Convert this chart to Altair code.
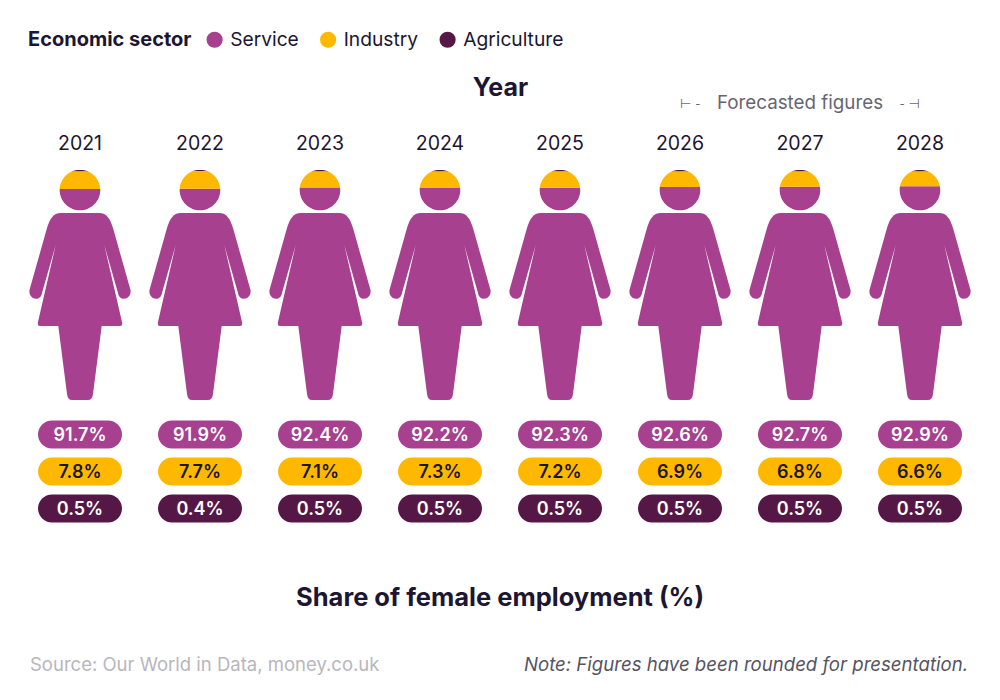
import altair as alt
import pandas as pd

# ---------------- data ----------------
years = ["2021", "2022", "2023", "2024", "2025", "2026", "2027", "2028"]
sectors = ["Service", "Industry", "Agriculture"]
service = [91.7, 91.9, 92.4, 92.2, 92.3, 92.6, 92.7, 92.9]
industry = [7.8, 7.7, 7.1, 7.3, 7.2, 6.9, 6.8, 6.6]
agriculture = [0.5, 0.4, 0.5, 0.5, 0.5, 0.5, 0.5, 0.5]
sector_colors = ["#A6408F", "#FFB800", "#551846"]

forecast_years = ["2026", "2027", "2028"]
title_x = "Year"
title_bottom = "Share of female employment (%)"
source_text = "Source: Our World in Data, money.co.uk"
note_text = "Note: Figures have been rounded for presentation."
forecast_text = "Forecasted figures"

DARK = "#1c1633"
FONT = "Inter"

rows = []
for i, yr in enumerate(years):
    for k, (s, vals) in enumerate(zip(sectors, [service, industry, agriculture])):
        rows.append({"year": yr, "sector": s, "share": vals[i], "order": k,
                     "label": f"{vals[i]:.1f}%"})
df = pd.DataFrame(rows)
years_df = pd.DataFrame({"year": years})

# ---------------- shapes (symbol paths, 50 px per unit at size 10000) ----------------
U = 50.0


def path(cmds):
    out = []
    for tok in cmds.split():
        try:
            out.append(f"{float(tok) / U:.4f}")
        except ValueError:
            out.append(tok)
    return " ".join(out)


outer = "M -57 -121 L 57 -121 L 57 121 L -57 121 Z"
head = ("M 0 -115.3 C -11.2 -115.3 -20.3 -106.2 -20.3 -95 C -20.3 -83.8 -11.2 -74.7 0 -74.7 "
        "C 11.2 -74.7 20.3 -83.8 20.3 -95 C 20.3 -106.2 11.2 -115.3 0 -115.3 Z")
body = ("M 0 -72 L -19 -72 C -27 -72 -30 -66 -33 -57 L -50.5 5 C -52 15 -39 17 -38 8 "
        "L -24.3 -40 L -42 37 C -42.5 40 -42 41 -40 41 L -21.7 41 L -13 109 "
        "C -12.5 113 -11 115 -8 115 L 8 115 C 11 115 12.5 113 13 109 L 21.7 41 L 40 41 "
        "C 42 41 42.5 40 42 37 L 24.3 -40 L 38 8 C 39 17 52 15 50.5 5 L 33 -57 "
        "C 30 -66 27 -72 19 -72 Z")
MASK = path(outer + " " + head + " " + body)
PILL = path("M -28 -14 L 28 -14 C 35.7 -14 42 -7.7 42 0 C 42 7.7 35.7 14 28 14 "
            "L -28 14 C -35.7 14 -42 7.7 -42 0 C -42 -7.7 -35.7 -14 -28 -14 Z")

# ---------------- scales ----------------
x_enc = alt.X(
    "year:O",
    scale=alt.Scale(type="band", domain=years, range=[12, 972], paddingInner=0, paddingOuter=0),
    axis=alt.Axis(orient="top", title=title_x, titleFont=FONT, titleFontSize=25,
                  titleFontWeight="bold", titleColor=DARK, titlePadding=33,
                  labelFont=FONT, labelFontSize=19.5, labelColor=DARK, labelAngle=0,
                  labelPadding=7, domain=False, ticks=False, tickSize=0, grid=False),
)
fig_scale = alt.Scale(domain=[0, 100], range=[240, 10], nice=False, zero=True)
pill_scale = alt.Scale(type="point", domain=sectors, range=[274.5, 348.5], padding=0)
color_scale = alt.Scale(domain=sectors, range=sector_colors)
legend = alt.Legend(
    orient="none", legendX=20, legendY=-130, direction="horizontal", titleOrient="left",
    title="Economic sector", titleFont=FONT, titleFontSize=20, titleFontWeight="bold",
    titleColor=DARK, titlePadding=13, labelFont=FONT, labelFontSize=19.2, labelColor=DARK,
    symbolType="circle", symbolSize=260, symbolStrokeWidth=0, symbolOpacity=1,
    columnPadding=19.5, labelOffset=6, padding=0, offset=0,
)

bars = alt.Chart(df).mark_bar(width=106).encode(
    x=x_enc,
    y=alt.Y("share:Q", stack="zero", scale=fig_scale, axis=None),
    color=alt.Color("sector:N", scale=color_scale, legend=legend),
    order=alt.Order("order:Q", sort="ascending"),
)

mask = alt.Chart(years_df).mark_point(
    shape=MASK, size=10000, filled=True, color="white", opacity=1, strokeWidth=0
).encode(
    x=x_enc,
    y=alt.YDatum(50, scale=fig_scale, axis=None),
)

pills = alt.Chart(df).mark_point(
    shape=PILL, size=10000, filled=True, opacity=1, strokeWidth=0
).encode(
    x=x_enc,
    y=alt.Y("sector:N", scale=pill_scale, axis=None),
    color=alt.Color("sector:N", scale=color_scale, legend=legend),
)

pill_text = alt.Chart(df).mark_text(
    font=FONT, fontSize=18, fontWeight=600, baseline="middle", align="center", dy=1
).encode(
    x=x_enc,
    y=alt.Y("sector:N", scale=pill_scale, axis=None),
    text="label:N",
    color=alt.condition(alt.datum.sector == "Industry", alt.value(DARK), alt.value("white")),
)

ann_df = pd.DataFrame({"t": [forecast_text]})
forecast_mid = alt.Chart(ann_df).mark_text(
    font=FONT, fontSize=18.8, color="#676573", align="center", baseline="middle"
).encode(x=alt.XDatum(forecast_years[1], type="ordinal"), y=alt.value(-57), text="t:N")
forecast_l = alt.Chart(pd.DataFrame({"t": ["⊢ -"]})).mark_text(
    font="DejaVu Sans", fontSize=13, color="#676573", align="left", baseline="middle"
).encode(x=alt.XDatum(forecast_years[0], type="ordinal"), y=alt.value(-56), text="t:N")
forecast_r = alt.Chart(pd.DataFrame({"t": ["- ⊣"]})).mark_text(
    font="DejaVu Sans", fontSize=13, color="#676573", align="right", baseline="middle"
).encode(x=alt.XDatum(forecast_years[2], type="ordinal"), y=alt.value(-56), text="t:N")

bottom_title = alt.Chart(pd.DataFrame({"t": [title_bottom]})).mark_text(
    font=FONT, fontSize=25.5, fontWeight="bold", color=DARK, align="center", baseline="middle"
).encode(x=alt.value(492), y=alt.value(438), text="t:N")
source = alt.Chart(pd.DataFrame({"t": [source_text]})).mark_text(
    font=FONT, fontSize=18.5, color="#b7b6bd", align="left", baseline="middle"
).encode(x=alt.value(22), y=alt.value(505), text="t:N")
note = alt.Chart(pd.DataFrame({"t": [note_text]})).mark_text(
    font=FONT, fontSize=18.6, fontStyle="italic", color="#56545f", align="right",
    baseline="middle"
).encode(x=alt.value(960), y=alt.value(505), text="t:N")

chart = alt.layer(
    bars, mask, pills, pill_text, forecast_mid, forecast_l, forecast_r,
    bottom_title, source, note,
).resolve_scale(y="independent").properties(
    width=984, height=532,
    autosize=alt.AutoSizeParams(type="none"),
    padding={"top": 152, "left": 0, "right": 0, "bottom": 0},
    background="white",
).configure_view(stroke=None)

chart.save("out.html", embed_options={"renderer": "svg", "actions": False})
